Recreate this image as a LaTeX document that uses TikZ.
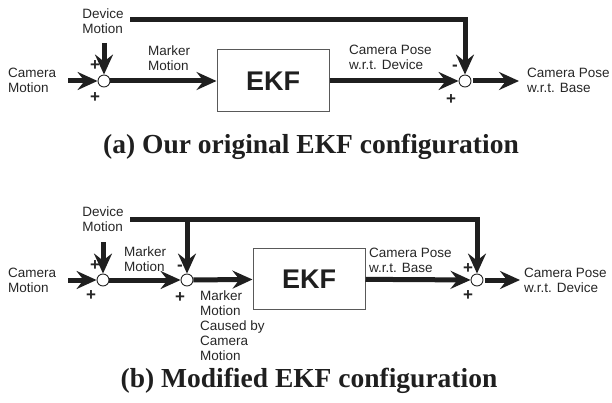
\documentclass[tikz,border=0pt]{standalone}
\usepackage{fontspec}
\setmainfont{Liberation Serif}
\setsansfont{Liberation Sans}
\usetikzlibrary{arrows.meta}
\begin{document}
\begin{tikzpicture}[x=1pt,y=-1pt,
  lab/.style={font=\sffamily\fontsize{13.5}{14.8}\selectfont, align=left, inner sep=0pt, text=black!85},
  sgn/.style={font=\sffamily\bfseries\fontsize{17}{17}\selectfont, inner sep=0pt, text=black!85},
  sum/.style={circle, draw=black!85, line width=0.9pt, minimum size=12pt, inner sep=0pt, fill=white},
  ekf/.style={draw=black!65, line width=1pt, minimum width=112pt, minimum height=62pt, inner sep=0pt,
    font=\sffamily\bfseries\fontsize{27}{27}\selectfont, text=black!88},
  sig/.style={line width=5pt, draw=black!88},
  arr/.style={sig, -{Stealth[length=20pt,width=18pt,inset=7pt]}},
  capt/.style={font=\bfseries\fontsize{27.5}{30}\selectfont, inner sep=0pt, text=black!88}]
\useasboundingbox (0,0) rectangle (612,403);
% ---------- (a) ----------
\node[sum] (a1) at (104,81) {};
\node[sum] (a2) at (465,81) {};
\node[ekf] (aE) at (273,81) {EKF};
\node[lab, anchor=west] (aCam) at (8,80) {Camera\\Motion};
\node[lab] (aDev) at (103,21) {Device\\Motion};
\node[lab, anchor=west] (aMM) at (148,58) {Marker\\Motion};
\node[lab, anchor=west] (aPD) at (349,57) {Camera Pose\\w.r.t. Device};
\node[lab, anchor=west] (aOut) at (527,80) {Camera Pose\\w.r.t. Base};
\coordinate (aIn) at (68,81);
\coordinate (aDevS) at (104,43);
\coordinate (aTop) at (130,20);
\coordinate (aOutE) at (519,81);
\draw[arr] (aIn) -- (a1);
\draw[arr] (aDevS) -- (a1);
\draw[arr] (a1) -- (aE);
\draw[arr] (aE) -- (a2);
\draw[arr] (aTop) -| (a2);
\draw[arr, shorten <=2pt] (a2) -- (aOutE);
\node[sgn] (sa1) at (95,66) {+};
\node[sgn] (sa2) at (95,98) {+};
\node[sgn] (sa3) at (455,68) {-};
\node[sgn] (sa4) at (451,100) {+};
\node[capt] (capA) at (311,147) {(a) Our original EKF configuration};
% ---------- (b) ----------
\node[sum] (b1) at (103,280) {};
\node[sum] (b2) at (187,280) {};
\node[ekf, minimum height=61pt] (bE) at (309,279) {EKF};
\node[sum] (b3) at (477,280) {};
\node[lab, anchor=west] (bCam) at (8,280) {Camera\\Motion};
\node[lab] (bDev) at (103,219) {Device\\Motion};
\node[lab, anchor=west] (bMM) at (124,259) {Marker\\Motion};
\node[lab, anchor=north west] (bMC) at (200,291) {Marker\\Motion\\Caused by\\Camera\\Motion};
\node[lab, anchor=west] (bPB) at (369,260) {Camera Pose\\w.r.t. Base};
\node[lab, anchor=west] (bOut) at (524,280) {Camera Pose\\w.r.t. Device};
\coordinate (bIn) at (68,280);
\coordinate (bDevS) at (103,242);
\coordinate (bTop) at (130,219);
\coordinate (bBr) at (187,219);
\coordinate (bOutE) at (520,280);
\draw[arr] (bIn) -- (b1);
\draw[arr] (bDevS) -- (b1);
\draw[arr] (b1) -- (b2);
\draw[arr] (b2) -- (bE);
\draw[arr] (bE) -- (b3);
\draw[arr] (bTop) -| (b3);
\draw[arr] (bBr) -- (b2);
\draw[arr, shorten <=2pt] (b3) -- (bOutE);
\node[sgn] (sb1) at (95,266) {+};
\node[sgn] (sb2) at (91,296) {+};
\node[sgn] (sb3) at (180,268) {-};
\node[sgn] (sb4) at (180,298) {+};
\node[sgn] (sb5) at (468,269) {+};
\node[sgn] (sb6) at (468,296) {+};
\node[capt] (capB) at (309,381) {(b) Modified EKF configuration};
\end{tikzpicture}
\end{document}
